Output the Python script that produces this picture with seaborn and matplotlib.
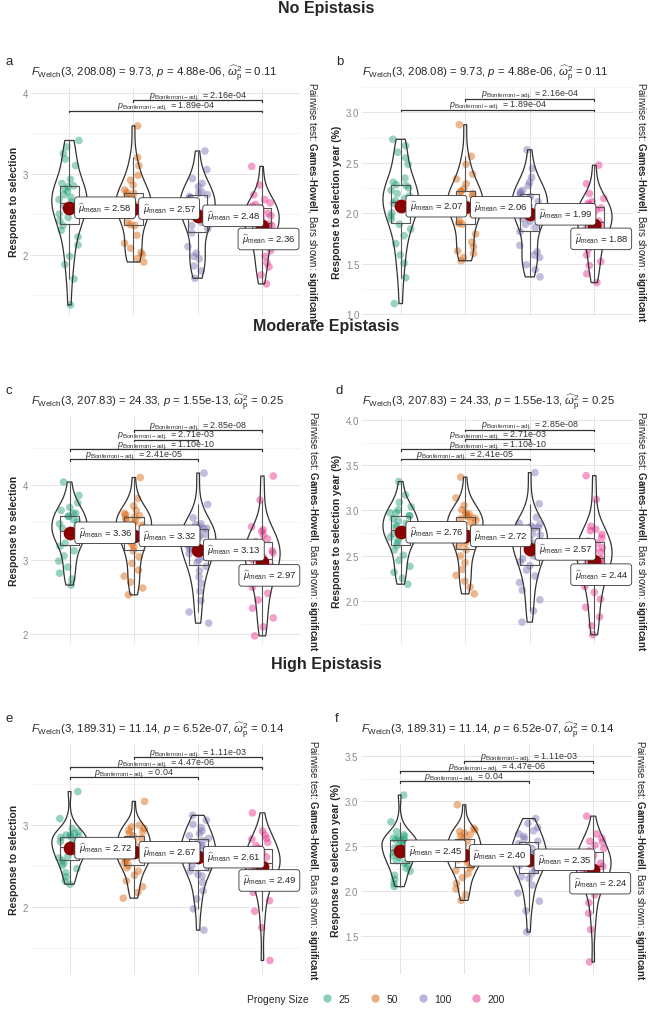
import numpy as np
import pandas as pd
import matplotlib
matplotlib.use('Agg')
import matplotlib.pyplot as plt
from matplotlib.lines import Line2D
from matplotlib.ticker import MultipleLocator
import seaborn as sns

# --- datos ---
sizes = ['25', '50', '100', '200']
colores = ['#1B9E77', '#D95F02', '#7570B3', '#E7298A']

# respuesta a la seleccion, sin epistasis
no_25 = [1.38, 1.70, 1.88, 1.98, 2.12, 2.22, 2.30, 2.36, 2.42, 2.46, 2.50, 2.54, 2.57, 2.60, 2.62,
         2.65, 2.68, 2.71, 2.74, 2.78, 2.81, 2.85, 2.84, 2.88, 2.93, 3.10, 3.18, 3.25, 3.33, 3.41]
no_50 = [1.91, 1.95, 2.00, 2.03, 2.08, 2.14, 2.24, 2.36, 2.37, 2.40, 2.48, 2.51, 2.54, 2.56, 2.58,
         2.60, 2.62, 2.65, 2.68, 2.71, 2.74, 2.77, 2.76, 2.80, 2.86, 2.92, 2.98, 3.10, 3.20, 3.59]
no_100 = [1.71, 1.80, 1.86, 1.95, 1.98, 2.02, 2.10, 2.27, 2.32, 2.36, 2.40, 2.43, 2.46, 2.49, 2.52,
          2.55, 2.58, 2.61, 2.64, 2.68, 2.72, 2.76, 2.70, 2.74, 2.78, 2.84, 2.88, 2.94, 3.05, 3.28]
no_200 = [1.64, 1.75, 1.85, 1.90, 1.98, 2.05, 2.12, 2.18, 2.22, 2.26, 2.29, 2.32, 2.34, 2.36, 2.38,
          2.40, 2.42, 2.45, 2.48, 2.51, 2.54, 2.58, 2.62, 2.56, 2.60, 2.64, 2.68, 2.74, 2.86, 3.09]

# epistasis moderada
mod_25 = [2.66, 2.74, 2.82, 2.90, 2.98, 3.05, 3.12, 3.18, 3.22, 3.26, 3.29, 3.32, 3.34, 3.36, 3.38,
          3.40, 3.42, 3.45, 3.48, 3.51, 3.54, 3.58, 3.62, 3.58, 3.62, 3.66, 3.70, 3.76, 3.86, 4.04]
mod_50 = [2.53, 2.62, 2.70, 2.78, 2.86, 2.95, 3.04, 3.12, 3.17, 3.21, 3.25, 3.28, 3.31, 3.34, 3.37,
          3.40, 3.43, 3.46, 3.49, 3.52, 3.55, 3.59, 3.54, 3.57, 3.60, 3.62, 3.66, 3.72, 3.82, 4.10]
mod_100 = [2.15, 2.30, 2.45, 2.58, 2.68, 2.77, 2.85, 2.91, 2.96, 3.00, 3.04, 3.08, 3.11, 3.14, 3.17,
           3.20, 3.23, 3.26, 3.29, 3.32, 3.34, 3.38, 3.42, 3.47, 3.42, 3.44, 3.48, 3.56, 3.74, 4.16]
mod_200 = [1.98, 2.10, 2.22, 2.35, 2.46, 2.55, 2.63, 2.70, 2.76, 2.82, 2.87, 2.91, 2.94, 2.97, 3.00,
           3.03, 3.06, 3.09, 3.12, 3.15, 3.18, 3.21, 3.24, 3.28, 3.33, 3.40, 3.38, 3.44, 3.80, 4.12]

# epistasis alta
high_25 = [2.28, 2.32, 2.37, 2.42, 2.47, 2.51, 2.54, 2.57, 2.60, 2.62, 2.64, 2.66, 2.68, 2.70, 2.72,
           2.74, 2.76, 2.78, 2.80, 2.82, 2.85, 2.88, 2.86, 2.86, 2.88, 2.90, 2.92, 2.96, 3.08, 3.41]
high_50 = [2.11, 2.18, 2.25, 2.32, 2.39, 2.44, 2.48, 2.51, 2.54, 2.57, 2.59, 2.61, 2.63, 2.65, 2.67,
           2.69, 2.71, 2.73, 2.75, 2.78, 2.81, 2.84, 2.87, 2.90, 2.94, 2.98, 2.92, 2.96, 3.00, 3.29]
high_100 = [1.72, 1.98, 2.10, 2.20, 2.30, 2.38, 2.40, 2.44, 2.48, 2.51, 2.54, 2.57, 2.60, 2.62, 2.64,
            2.66, 2.68, 2.70, 2.72, 2.75, 2.78, 2.81, 2.84, 2.87, 2.90, 2.93, 2.97, 3.01, 3.06, 3.12]
high_200 = [1.35, 1.75, 1.95, 2.08, 2.18, 2.26, 2.32, 2.36, 2.39, 2.42, 2.45, 2.47, 2.49, 2.51, 2.53,
            2.55, 2.57, 2.59, 2.61, 2.63, 2.66, 2.69, 2.72, 2.75, 2.79, 2.83, 2.88, 2.84, 2.93, 3.15]

# respuesta por anio = respuesta / duracion del ciclo (mismo F en ambos paneles)
ciclo_no = 1.248
ciclo_mod = 1.217
ciclo_high = 1.111

# medias mostradas en las etiquetas
means_no = [2.58, 2.57, 2.48, 2.36]
means_no_year = [2.07, 2.06, 1.99, 1.88]
means_mod = [3.36, 3.32, 3.13, 2.97]
means_mod_year = [2.76, 2.72, 2.57, 2.44]
means_high = [2.72, 2.67, 2.61, 2.49]
means_high_year = [2.45, 2.40, 2.35, 2.24]

# Welch ANOVA: gl denominador, F, p, omega^2
welch_df2 = ['208.08', '207.83', '189.31']
welch_F = ['9.73', '24.33', '11.14']
welch_p = ['4.88e-06', '1.55e-13', '6.52e-07']
welch_omega = ['0.11', '0.25', '0.14']

# comparaciones Games-Howell significativas (grupo1, grupo2, p ajustado)
comps_no = [('25', '200', '1.89e-04'), ('50', '200', '2.16e-04')]
comps_mod = [('25', '100', '2.41e-05'), ('25', '200', '1.10e-10'),
             ('50', '100', '2.71e-03'), ('50', '200', '2.85e-08')]
comps_high = [('25', '100', '0.04'), ('25', '200', '4.47e-06'), ('50', '200', '1.11e-03')]

row_titles = ['No Epistasis', 'Moderate Epistasis', 'High Epistasis']

# --- estilo ---
sns.set_theme(style='white')
plt.rcParams['font.family'] = ['Liberation Sans', 'DejaVu Sans']
plt.rcParams['mathtext.fontset'] = 'custom'
plt.rcParams['mathtext.rm'] = 'Liberation Sans'
plt.rcParams['mathtext.it'] = 'Liberation Sans:italic'
plt.rcParams['mathtext.bf'] = 'Liberation Sans:bold'
np.random.seed(3)

W, H = 648, 1012
fig = plt.figure(figsize=(W / 100, H / 100), dpi=100)


def axes_px(l, t, r, b):
    return fig.add_axes([l / W, 1 - b / H, (r - l) / W, (b - t) / H])


paneles = [
    # letra, rect px, grupos, divisor, medias, stats idx, comps, ylim, paso, ylabel
    ('a', (31, 88, 300, 316), [no_25, no_50, no_100, no_200], 1.0, means_no, 0, comps_no, (1.256, 4.07), 1.0,
     'Response to selection'),
    ('b', (362, 88, 633, 316), [no_25, no_50, no_100, no_200], ciclo_no, means_no_year, 0, comps_no,
     (0.993, 3.25), 0.5, 'Response to selection year (%)'),
    ('c', (31, 417, 301, 645), [mod_25, mod_50, mod_100, mod_200], 1.0, means_mod, 1, comps_mod,
     (1.871, 4.924), 1.0, 'Response to selection'),
    ('d', (362, 417, 633, 645), [mod_25, mod_50, mod_100, mod_200], ciclo_mod, means_mod_year, 1, comps_mod,
     (1.525, 4.044), 0.5, 'Response to selection year (%)'),
    ('e', (31, 745, 301, 975), [high_25, high_50, high_100, high_200], 1.0, means_high, 2, comps_high,
     (1.185, 3.99), 1.0, 'Response to selection'),
    ('f', (361, 745, 632, 975), [high_25, high_50, high_100, high_200], ciclo_high, means_high_year, 2,
     comps_high, (1.081, 3.637), 0.5, 'Response to selection year (%)'),
]

for letra, (l, t, r, b), grupos, divisor, medias, k, comps, ylim, paso, ylab in paneles:
    ax = axes_px(l, t, r, b)
    df = pd.DataFrame({
        'size': np.repeat(sizes, [len(g) for g in grupos]),
        'value': np.concatenate([np.array(g) / divisor for g in grupos]),
    })

    sns.stripplot(data=df, x='size', y='value', hue='size', order=sizes, hue_order=sizes,
                  palette=colores, jitter=0.17, size=5.5, alpha=0.45, linewidth=0,
                  legend=False, ax=ax, zorder=1)
    sns.boxplot(data=df, x='size', y='value', order=sizes, width=0.3, fill=False,
                color='#555555', linewidth=0.8, showfliers=False, showcaps=False, ax=ax)
    sns.violinplot(data=df, x='size', y='value', order=sizes, fill=False, color='#333333',
                   linewidth=0.9, inner=None, cut=0, density_norm='width', width=0.55,
                   bw_adjust=0.85, ax=ax)
    df_mean = pd.DataFrame({'size': sizes, 'mean': medias})
    sns.pointplot(data=df_mean, x='size', y='mean', order=sizes, color='#8B0000',
                  linestyle='none', markers='o', markersize=7.8, ax=ax, zorder=6)

    caja = dict(boxstyle='round,pad=0.4,rounding_size=0.3', fc='white', ec='#333333', lw=0.6)
    for i, m in enumerate(medias):
        txt = r'$\widehat{\mu}_{\mathrm{mean}}$ = ' + f'{m:.2f}'
        if i < 3:
            ax.annotate(txt, xy=(i, m), xytext=(6.5, 0), textcoords='offset points',
                        ha='left', va='center', fontsize=6.8, zorder=7, bbox=caja)
        else:
            ax.annotate(txt, xy=(i, m), xytext=(5, -9.7), textcoords='offset points',
                        ha='center', va='center', fontsize=6.8, zorder=7, bbox=caja)

    # barras de comparaciones
    vmax, vmin = df['value'].max(), df['value'].min()
    rango = vmax - vmin
    for n, (g1, g2, pv) in enumerate(comps):
        i, j = sizes.index(g1), sizes.index(g2)
        y = vmax + rango * (0.085 + 0.06 * n)
        tip = rango * 0.01
        ax.plot([i, i, j, j], [y - tip, y, y, y - tip], color='#333333', lw=0.9, zorder=4)
        ax.annotate(r'$p_{\mathrm{Bonferroni-adj.}}$ = ' + pv, xy=((i + j) / 2, y),
                    xytext=(0, -1.2), textcoords='offset points', ha='center', va='bottom',
                    fontsize=6.4, color='#333333', zorder=4)

    ax.set_xlim(-0.6, 3.6)
    ax.set_ylim(*ylim)
    ax.yaxis.set_major_locator(MultipleLocator(paso))
    ax.yaxis.set_minor_locator(MultipleLocator(paso / 2))
    ax.grid(True, which='major', color='#e5e5e5', lw=0.7)
    ax.grid(True, which='minor', axis='y', color='#f0f0f0', lw=0.5)
    ax.set_axisbelow(True)
    for s in ax.spines.values():
        s.set_visible(False)
    ax.tick_params(axis='x', labelbottom=False, length=0)
    ax.tick_params(axis='y', which='both', length=0, labelsize=7, labelcolor='#8a8a8a', pad=2)
    ax.set_xlabel('')
    ax.set_ylabel(ylab, fontsize=7.5, fontweight='bold', labelpad=3)

    # subtitulo con la prueba de Welch
    sub = (r'$F_{\mathrm{Welch}}$(3, ' + welch_df2[k] + ') = ' + welch_F[k] + ', $p$ = ' +
           welch_p[k] + r', $\widehat{\omega}_{\mathrm{p}}^{2}$ = ' + welch_omega[k])
    fig.text(l / W, 1 - (t - 14) / H, sub, ha='left', va='center', fontsize=8.2)
    fig.text((l - 26) / W, 1 - (t - 26) / H, letra, ha='left', va='center', fontsize=9.5)
    desp = 12 if l < 300 else 8
    fig.text((r + desp) / W, 1 - ((t + b) / 2) / H,
             r'Pairwise test: $\mathbf{Games}$-$\mathbf{Howell}$, Bars shown: $\mathbf{significant}$',
             rotation=270, ha='center', va='center', fontsize=7)

for titulo, y in zip(row_titles, [9, 327, 665]):
    fig.text(326 / W, 1 - y / H, titulo, ha='center', va='center', fontsize=11.5, fontweight='bold')

# leyenda
handles = [Line2D([0], [0], marker='o', ls='none', markersize=6, markerfacecolor=c,
                  markeredgecolor='none', alpha=0.5) for c in colores]
fig.text(247 / W, 1 - 1000 / H, 'Progeny Size', ha='left', va='center', fontsize=7.5)
fig.legend(handles, sizes, ncol=4, loc='center left', bbox_to_anchor=(312 / W, 1 - 1000 / H),
           frameon=False, handletextpad=0.1, columnspacing=1.4, fontsize=7.5, borderaxespad=0)

fig.savefig('out.png', dpi=100)
